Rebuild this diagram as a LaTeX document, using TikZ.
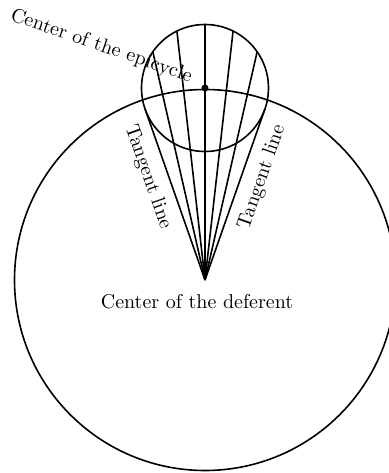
\documentclass[tikz,border=0pt]{standalone}
\usepackage{tikz}
\usetikzlibrary{positioning, calc}

\begin{document}
\begin{tikzpicture}[
  x=0.5pt, y=0.5pt,
  orbit/.style={draw, thick},
  ray/.style={thick},
  lbl/.style={font=\normalsize, inner sep=1pt},
]
\useasboundingbox (-205,-193) rectangle (183,280);
\coordinate (D) at (0,0);
\coordinate (E) at (0,192);
\draw[orbit] (D) circle[radius=190.5];
\draw[orbit] (E) circle[radius=63.5];
\fill (E) circle[radius=3.5];
% rays from the deferent centre across the epicycle
\foreach \k in {-2,...,2} {
  \pgfmathsetmacro\t{\k*19.31/3}
  \pgfmathsetmacro\len{192*cos(\t)+sqrt(4032.25-(192*sin(\t))^2)}
  \coordinate (r\k) at (90+\t:\len);
  \draw[ray] (D) -- (r\k);
}
\coordinate (tl) at (109.31:181.2);
\coordinate (tr) at (70.69:181.2);
\draw[ray] (D) -- node[lbl, sloped, below, pos=0.64, inner sep=5pt] {Tangent line} (tl);
\draw[ray] (D) -- node[lbl, sloped, below, pos=0.64, inner sep=5pt] {Tangent line} (tr);
\node[lbl, anchor=base east, rotate=-19] (epi) at (-13,197) {Center of the epicycle};
\node[lbl, anchor=base] (def) at (-8,-28) {Center of the deferent};
\end{tikzpicture}
\end{document}
